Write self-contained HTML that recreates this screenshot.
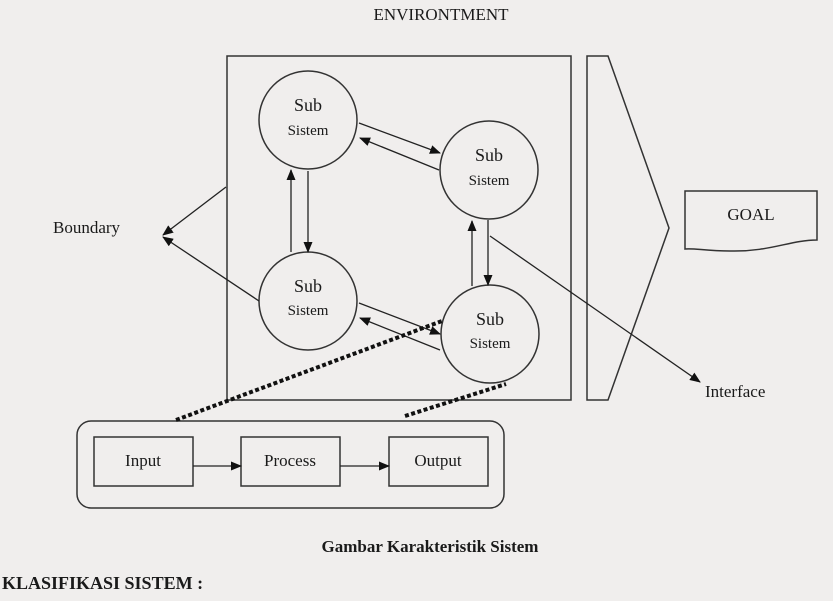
<!DOCTYPE html>
<html><head><style>
html,body{margin:0;padding:0;background:#f0eeed;}
svg{display:block}
text{font-family:"Liberation Serif",serif;fill:#1a1a1a}
</style></head><body>
<svg width="833" height="601" viewBox="0 0 833 601" xmlns="http://www.w3.org/2000/svg">
<defs>
<marker id="a" markerWidth="11" markerHeight="9" refX="10" refY="4.5" orient="auto" markerUnits="userSpaceOnUse"><path d="M0,0 L11,4.5 L0,9 z" fill="#111"/></marker>
</defs>
<rect width="833" height="601" fill="#f0eeed"/>
<text x="441" y="20" font-size="17" text-anchor="middle">ENVIRONTMENT</text>
<g fill="none" stroke="#333" stroke-width="1.5">
<rect x="227" y="56" width="344" height="344"/>
<polygon points="587,56 608,56 669,228 608,400 587,400"/>
<path d="M685,191 L817,191 L817,240 C790,240 770,252 730,251 C705,251 695,248 685,249 Z"/>
<circle cx="308" cy="120" r="49"/>
<circle cx="489" cy="170" r="49"/>
<circle cx="308" cy="301" r="49"/>
<circle cx="490" cy="334" r="49"/>
<rect x="77" y="421" width="427" height="87" rx="14"/>
<rect x="94" y="437" width="99" height="49"/>
<rect x="241" y="437" width="99" height="49"/>
<rect x="389" y="437" width="99" height="49"/>
</g>
<g stroke="#222" stroke-width="1.3" fill="none" marker-end="url(#a)">
<line x1="359" y1="123" x2="440" y2="153"/>
<line x1="439" y1="170" x2="360" y2="138"/>
<line x1="291" y1="252" x2="291" y2="170"/>
<line x1="308" y1="171" x2="308" y2="252"/>
<line x1="472" y1="286" x2="472" y2="221"/>
<line x1="488" y1="220" x2="488" y2="285"/>
<line x1="359" y1="303" x2="440" y2="334"/>
<line x1="440" y1="350" x2="360" y2="318"/>
<line x1="226" y1="187" x2="163" y2="235"/>
<line x1="259" y1="301" x2="163" y2="237"/>
<line x1="490" y1="236" x2="700" y2="382"/>
<line x1="193" y1="466" x2="241" y2="466"/>
<line x1="340" y1="466" x2="389" y2="466"/>
</g>
<g stroke="#111" stroke-width="4" stroke-dasharray="4,2.5" fill="none">
<line x1="176" y1="420" x2="442" y2="321"/>
<line x1="405" y1="416" x2="506" y2="384"/>
</g>
<g font-size="18" text-anchor="middle">
<text x="308" y="111">Sub</text><text x="308" y="135" font-size="15">Sistem</text>
<text x="489" y="161">Sub</text><text x="489" y="185" font-size="15">Sistem</text>
<text x="308" y="292">Sub</text><text x="308" y="315" font-size="15">Sistem</text>
<text x="490" y="325">Sub</text><text x="490" y="348" font-size="15">Sistem</text>
<text x="143" y="466" font-size="17">Input</text>
<text x="290" y="466" font-size="17">Process</text>
<text x="438" y="466" font-size="17">Output</text>
<text x="751" y="220" font-size="17">GOAL</text>
</g>
<text x="53" y="233" font-size="17">Boundary</text>
<text x="705" y="397" font-size="17">Interface</text>
<text x="430" y="552" font-size="17" font-weight="bold" text-anchor="middle">Gambar Karakteristik Sistem</text>
<text x="2" y="589" font-size="18" font-weight="bold">KLASIFIKASI SISTEM :</text>
</svg>
</body></html>
